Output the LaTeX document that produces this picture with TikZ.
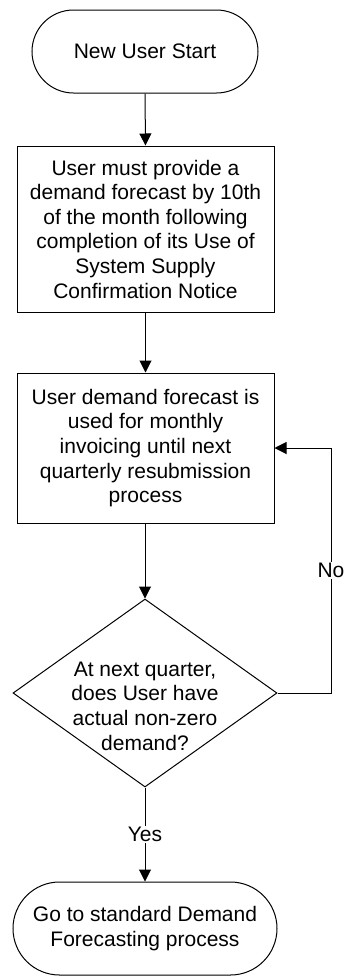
\documentclass[tikz,border=0pt]{standalone}
\usepackage{fontspec}
\setmainfont{Liberation Sans}
\usetikzlibrary{shapes.misc,shapes.geometric,arrows.meta}
\begin{document}
\begin{tikzpicture}[x=1pt,y=-1pt,
  every node/.style={font=\fontsize{21}{24.6}\selectfont, align=center, inner sep=0pt},
  term/.style={draw, line width=1pt, rounded rectangle, rounded rectangle arc length=180},
  procbox/.style={draw, line width=1pt, rectangle, minimum width=257pt},
  decide/.style={draw, line width=1pt, diamond, minimum width=264pt, minimum height=188pt},
  conn/.style={line width=1pt, -{Triangle[length=12pt,width=12pt]}},
  lab/.style={fill=white, inner sep=1pt}]
\useasboundingbox (0,0) rectangle (343,978);
\node[term, minimum width=226pt, minimum height=83pt] (start) at (145,51.5) {New User Start};
\node[procbox, minimum height=166pt] (p1) at (145.5,229) {User must provide a\\demand forecast by 10th\\of the month following\\completion of its Use of\\System Supply\\Confirmation Notice};
\node[procbox, minimum height=150pt] (p2) at (145.5,448) {User demand forecast is\\used for monthly\\invoicing until next\\quarterly resubmission\\process};
\node[decide, label={[yshift=-13pt, align=center]center:At next quarter,\\does User have\\actual non-zero\\demand?}] (d) at (145,693) {};
\node[term, minimum width=264pt, minimum height=93pt] (end) at (145,928.5) {Go to standard Demand\\Forecasting process};
\coordinate (r1) at (331,693);
\coordinate (r2) at (331,448);
\draw[conn] (start.south) -- (p1.north);
\draw[conn] (p1.south) -- (p1.south |- p2.north);
\draw[conn] (p2.south) -- (p2.south -| d.north) -- (d.north);
\draw[conn] (d.south) -- node[lab] (yes) {Yes} (end.north);
\draw[conn] (d.east) -- (r1) -- node[lab, pos=0.5] (no) {No} (r2) -- (p2.east);
\end{tikzpicture}
\end{document}
